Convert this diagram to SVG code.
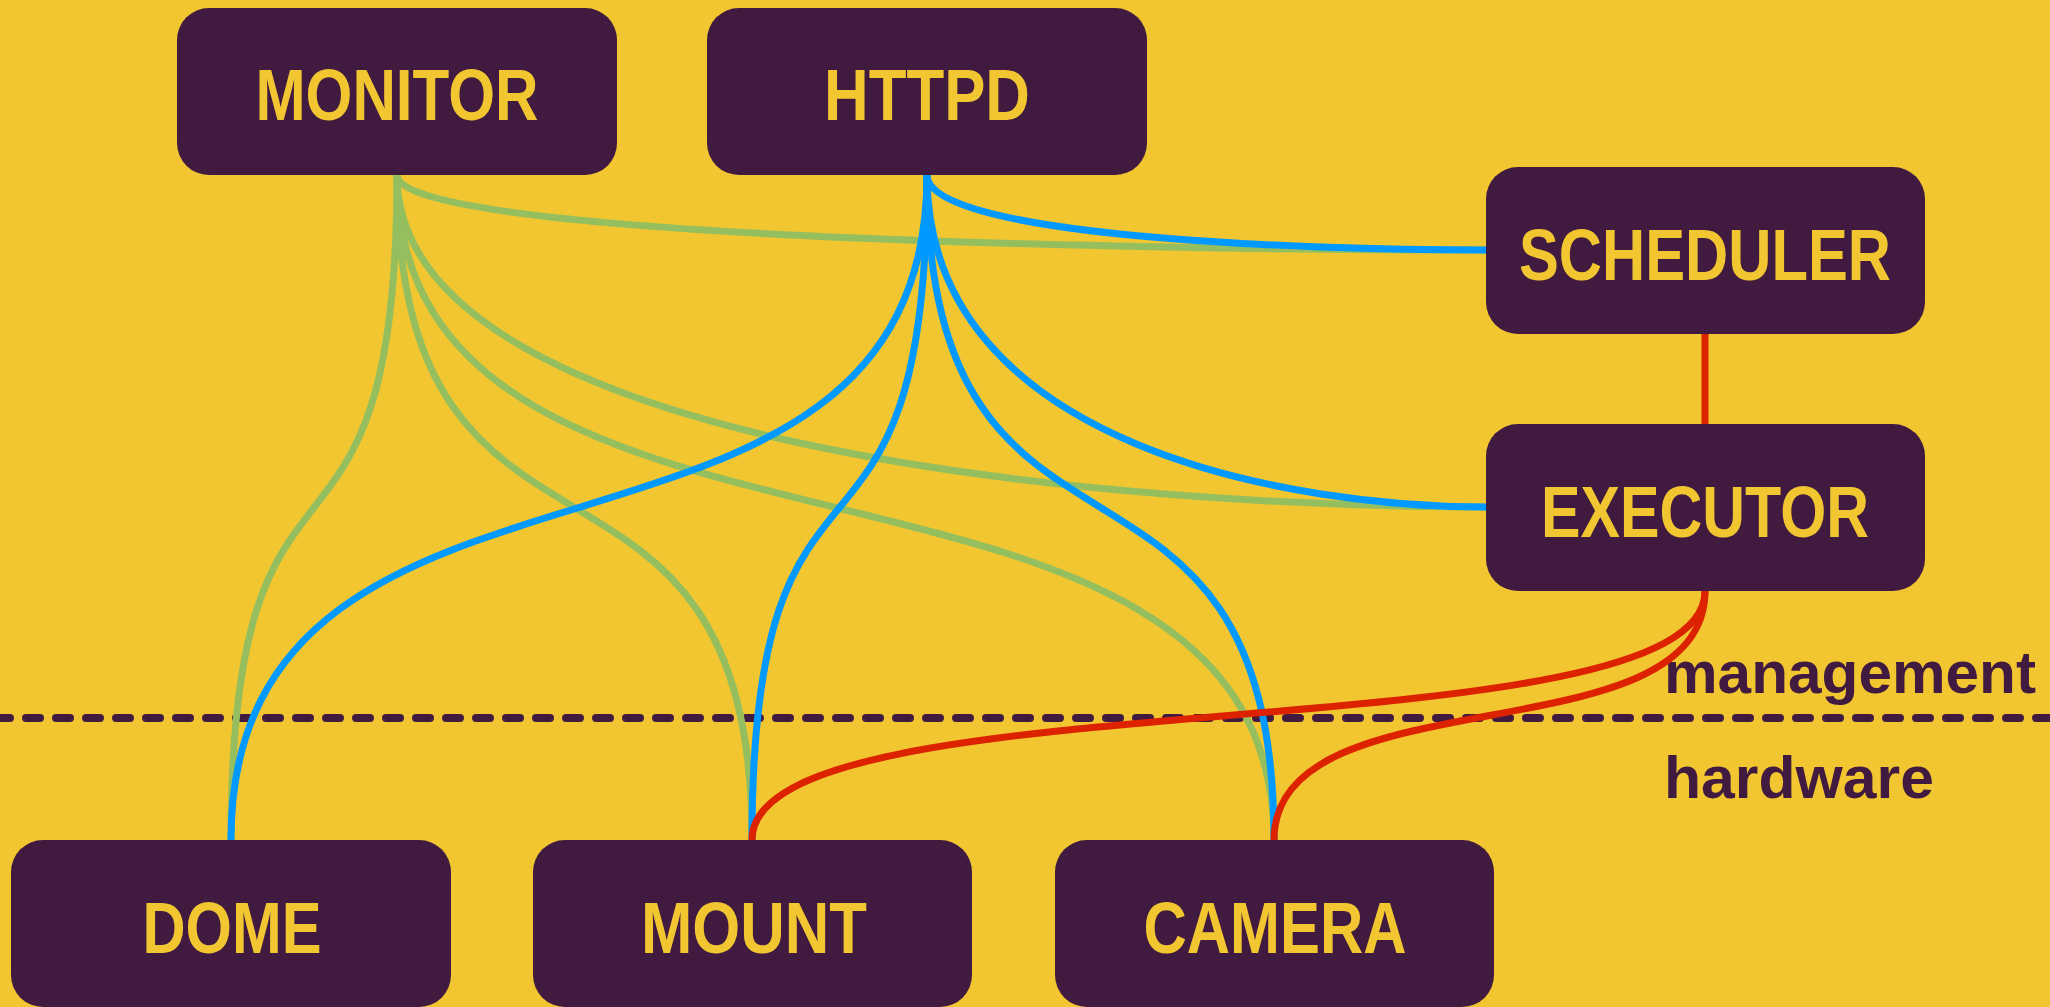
<svg xmlns="http://www.w3.org/2000/svg" width="2050" height="1007" viewBox="0 0 2050 1007">
<style>
.bg{fill:#F2C631}
.node rect{fill:#401A3F}
.node text{fill:#F2C631;font-family:"Liberation Sans",Arial,sans-serif;font-weight:bold;font-size:72px;text-anchor:middle}
.lbl{fill:#401A3F;font-family:"Liberation Sans",Arial,sans-serif;font-weight:bold;font-size:60px}
.c{fill:none;stroke-width:7;stroke-linecap:round}
.g{stroke:#95BF5E}
.b{stroke:#0099FF}
.r{stroke:#DD2200}
.sep{stroke:#401A3F;stroke-width:8;stroke-linecap:round;stroke-dasharray:14 16;stroke-dashoffset:4;fill:none}
</style>
<rect class="bg" x="0" y="0" width="2050" height="1007"/>
<line class="sep" x1="0" y1="718" x2="2050" y2="718"/>
<text class="lbl" x="1664" y="693" textLength="372" lengthAdjust="spacingAndGlyphs">management</text>
<text class="lbl" x="1664" y="798" textLength="270" lengthAdjust="spacingAndGlyphs">hardware</text>
<g id="connectors">
<path class="c g" d="M397,175 C397,237 1127,250 1486,250"/>
<path class="c g" d="M397,175 C397,451 1127,507 1486,507"/>
<path class="c g" d="M397,175 C397,627 231,388 231,840"/>
<path class="c g" d="M397,175 C397,627 752,388 752,840"/>
<path class="c g" d="M397,175 C397,627 1274,388 1274,840"/>
<path class="c b" d="M927,175 C927,237 1302,250 1486,250"/>
<path class="c b" d="M927,175 C927,451 1302,507 1486,507"/>
<path class="c b" d="M927,175 C927,627 231,388 231,840"/>
<path class="c b" d="M927,175 C927,627 752,388 752,840"/>
<path class="c b" d="M927,175 C927,627 1274,388 1274,840"/>
<path class="c r" d="M1705,334 L1705,425"/>
<path class="c r" d="M1705,591 C1705,760 752,671 752,840"/>
<path class="c r" d="M1705,591 C1705,760 1274,671 1274,840"/>
</g>
<g id="monitor" class="node"><rect x="177" y="8" width="440" height="167" rx="32"/><text x="397" y="120" textLength="283" lengthAdjust="spacingAndGlyphs">MONITOR</text></g>
<g id="httpd" class="node"><rect x="707" y="8" width="440" height="167" rx="32"/><text x="927" y="120" textLength="206" lengthAdjust="spacingAndGlyphs">HTTPD</text></g>
<g id="scheduler" class="node"><rect x="1486" y="167" width="439" height="167" rx="32"/><text x="1705" y="280" textLength="372" lengthAdjust="spacingAndGlyphs">SCHEDULER</text></g>
<g id="executor" class="node"><rect x="1486" y="424" width="439" height="167" rx="32"/><text x="1705" y="537" textLength="328" lengthAdjust="spacingAndGlyphs">EXECUTOR</text></g>
<g id="dome" class="node"><rect x="11" y="840" width="440" height="167" rx="32"/><text x="232" y="953" textLength="179" lengthAdjust="spacingAndGlyphs">DOME</text></g>
<g id="mount" class="node"><rect x="533" y="840" width="439" height="167" rx="32"/><text x="754" y="953" textLength="226" lengthAdjust="spacingAndGlyphs">MOUNT</text></g>
<g id="camera" class="node"><rect x="1055" y="840" width="439" height="167" rx="32"/><text x="1275" y="953" textLength="263" lengthAdjust="spacingAndGlyphs">CAMERA</text></g>
</svg>
